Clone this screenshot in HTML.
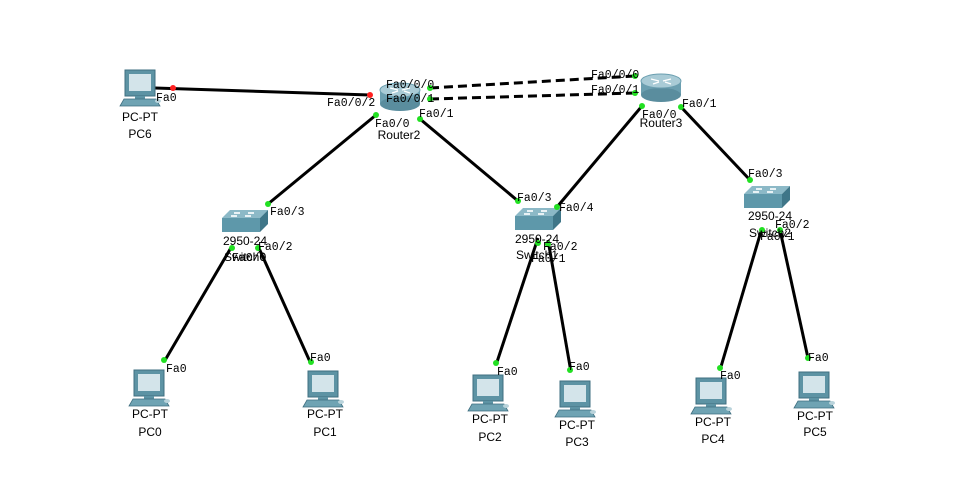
<!DOCTYPE html>
<html><head><meta charset="utf-8"><style>
html,body{margin:0;padding:0;background:#fff}
svg{display:block}
.n{font-family:"Liberation Sans",sans-serif;font-size:12px;fill:#000}
.p{font-family:"Liberation Mono",monospace;font-size:11.5px;fill:#000}
</style></head><body>
<svg width="977" height="498" viewBox="0 0 977 498" xmlns="http://www.w3.org/2000/svg">
<defs>
<g id="pc">
  <rect x="3" y="0" width="30" height="26" fill="#5d93a4" stroke="#3f6f80" stroke-width="1"/>
  <rect x="7" y="4" width="22" height="17" fill="#d3e4ea"/>
  <rect x="13" y="26" width="10" height="3" fill="#5d93a4"/>
  <polygon points="2,29 34,29 38,36 -2,36" fill="#6fa3b3" stroke="#3f6f80" stroke-width="0.8"/>
  <ellipse cx="36" cy="31" rx="3" ry="2" fill="#b9d3db"/>
</g>
<g id="sw">
  <polygon points="0,8 8,0 46,0 38,8" fill="#8cb9c7"/>
  <polygon points="0,8 38,8 38,22 0,22" fill="#5e98aa"/>
  <polygon points="38,8 46,0 46,14 38,22" fill="#3f7688"/>
  <rect x="12" y="2" width="6" height="2" fill="#e8f2f5"/><rect x="26" y="2" width="6" height="2" fill="#e8f2f5"/>
  <rect x="9" y="5" width="6" height="2" fill="#e8f2f5"/><rect x="23" y="5" width="6" height="2" fill="#e8f2f5"/>
</g>
<g id="rt">
  <rect x="0" y="8" width="40" height="14" fill="#6b9fb0"/>
  <ellipse cx="20" cy="22" rx="20" ry="7" fill="#5a8d9e"/>
  <ellipse cx="20" cy="8" rx="20" ry="7" fill="#a9cbd6" stroke="#6b9fb0"/>
  <path d="M10,6 l8,2 M22,8 l8,-2 M12,11 l6,-2 M24,9 l6,2" stroke="#fff" stroke-width="1.2"/>
</g>
</defs>

<g stroke="#000" stroke-width="3" fill="none">
  <line x1="155" y1="88" x2="370" y2="95"/>
  <line x1="430" y1="88" x2="635" y2="76" stroke-dasharray="9,5"/>
  <line x1="430" y1="99" x2="635" y2="93" stroke-dasharray="9,5"/>
  <line x1="376" y1="115" x2="268" y2="204"/>
  <line x1="420" y1="119" x2="518" y2="201"/>
  <line x1="642" y1="106" x2="557" y2="207"/>
  <line x1="681" y1="107" x2="750" y2="180"/>
  <line x1="232" y1="246" x2="164" y2="362"/>
  <line x1="258" y1="246" x2="311" y2="364"/>
  <line x1="538" y1="238" x2="496" y2="365"/>
  <line x1="548" y1="240" x2="571" y2="372"/>
  <line x1="762" y1="228" x2="720" y2="370"/>
  <line x1="780" y1="230" x2="808" y2="358"/>
</g>

<use href="#pc" x="122" y="70"/>
<use href="#pc" x="131" y="370"/>
<use href="#pc" x="305" y="371"/>
<use href="#pc" x="470" y="375"/>
<use href="#pc" x="557" y="381"/>
<use href="#pc" x="693" y="378"/>
<use href="#pc" x="796" y="372"/>
<use href="#sw" x="222" y="210"/>
<use href="#sw" x="515" y="208"/>
<use href="#sw" x="744" y="186"/>
<use href="#rt" x="380" y="82"/>
<use href="#rt" x="641" y="73"/>

<g fill="#ff2020">
  <circle cx="173" cy="88" r="3"/><circle cx="370" cy="95" r="3"/>
</g>
<g fill="#22e022">
  <circle cx="430" cy="88" r="3"/><circle cx="430" cy="99" r="3"/>
  <circle cx="635" cy="76" r="3"/><circle cx="635" cy="93" r="3"/>
  <circle cx="376" cy="115" r="3"/><circle cx="420" cy="119" r="3"/>
  <circle cx="642" cy="106" r="3"/><circle cx="681" cy="107" r="3"/>
  <circle cx="268" cy="204" r="3"/><circle cx="518" cy="201" r="3"/>
  <circle cx="557" cy="207" r="3"/><circle cx="750" cy="180" r="3"/>
  <circle cx="232" cy="248" r="3"/><circle cx="258" cy="248" r="3"/>
  <circle cx="538" cy="243" r="3"/><circle cx="548" cy="244" r="3"/>
  <circle cx="762" cy="230" r="3"/><circle cx="780" cy="230" r="3"/>
  <circle cx="164" cy="360" r="3"/><circle cx="311" cy="362" r="3"/>
  <circle cx="496" cy="363" r="3"/><circle cx="570" cy="370" r="3"/>
  <circle cx="720" cy="368" r="3"/><circle cx="808" cy="358" r="3"/>
</g>

<g class="n" text-anchor="middle">
  <text x="140" y="121">PC-PT</text><text x="140" y="138">PC6</text>
  <text x="150" y="418">PC-PT</text><text x="150" y="436">PC0</text>
  <text x="325" y="418">PC-PT</text><text x="325" y="436">PC1</text>
  <text x="490" y="423">PC-PT</text><text x="490" y="441">PC2</text>
  <text x="577" y="429">PC-PT</text><text x="577" y="446">PC3</text>
  <text x="713" y="426">PC-PT</text><text x="713" y="443">PC4</text>
  <text x="815" y="420">PC-PT</text><text x="815" y="436">PC5</text>
  <text x="399" y="139">Router2</text>
  <text x="661" y="127">Router3</text>
  <text x="245" y="245">2950-24</text><text x="245" y="261">Switch0</text>
  <text x="537" y="243">2950-24</text><text x="537" y="259">Switch1</text>
  <text x="770" y="220">2950-24</text><text x="770" y="237">Switch2</text>
</g>
<g class="p">
  <text x="156" y="101">Fa0</text>
  <text x="327" y="106">Fa0/0/2</text>
  <text x="386" y="88">Fa0/0/0</text>
  <text x="386" y="102">Fa0/0/1</text>
  <text x="375" y="127">Fa0/0</text>
  <text x="419" y="117">Fa0/1</text>
  <text x="591" y="78">Fa0/0/0</text>
  <text x="591" y="93">Fa0/0/1</text>
  <text x="642" y="118">Fa0/0</text>
  <text x="682" y="107">Fa0/1</text>
  <text x="270" y="215">Fa0/3</text>
  <text x="258" y="250">Fa0/2</text>
  <text x="232" y="261">Fa0/0</text>
  <text x="517" y="201">Fa0/3</text>
  <text x="559" y="211">Fa0/4</text>
  <text x="543" y="250">Fa0/2</text>
  <text x="531" y="262">Fa0/1</text>
  <text x="748" y="177">Fa0/3</text>
  <text x="775" y="228">Fa0/2</text>
  <text x="760" y="240">Fa0/1</text>
  <text x="166" y="372">Fa0</text>
  <text x="310" y="361">Fa0</text>
  <text x="497" y="375">Fa0</text>
  <text x="569" y="370">Fa0</text>
  <text x="720" y="379">Fa0</text>
  <text x="808" y="361">Fa0</text>
</g>
</svg>
</body></html>
